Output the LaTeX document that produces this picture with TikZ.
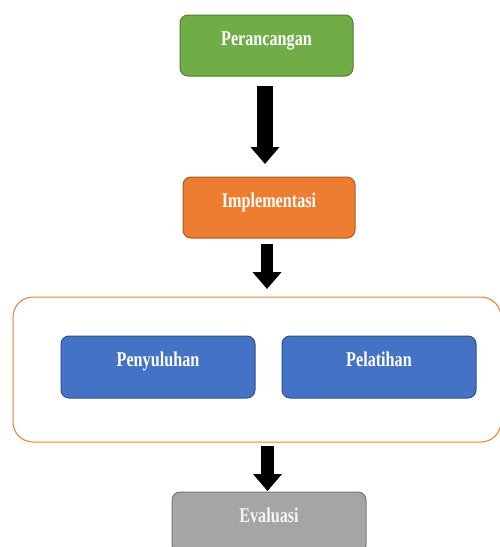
\documentclass[tikz,border=0pt]{standalone}
\usepackage{fontspec}
\setmainfont{Liberation Serif}[FakeStretch=0.77]
\usetikzlibrary{arrows.meta}
\definecolor{cgreen}{HTML}{70AD47}
\definecolor{cgreenb}{HTML}{507E32}
\definecolor{corange}{HTML}{ED7D31}
\definecolor{coranb}{HTML}{AE5A21}
\definecolor{cblue}{HTML}{4472C4}
\definecolor{cblueb}{HTML}{2F528F}
\definecolor{cgray}{HTML}{A5A5A5}
\definecolor{cgrayb}{HTML}{787878}
\tikzset{
  box/.style={draw, line width=1pt, rounded corners=8pt, inner sep=0pt, outer sep=0pt,
    text=white, font=\fontsize{21}{25}\selectfont\bfseries,
    text height=30pt, anchor=north},
  blk/.style={line width=#1, draw=black, -{Triangle[width=28pt,length=17pt]}},
}
\begin{document}
\begin{tikzpicture}[x=1pt,y=-1pt]
\useasboundingbox (0,0) rectangle (499,547);
\node[box, fill=cgreen, draw=cgreenb, minimum width=173pt, text depth=31pt] (P) at (266.5,15) {Perancangan};
\node[box, fill=corange, draw=coranb, minimum width=172pt, text depth=31pt] (I) at (269,177) {Implementasi};
\node[draw=corange, line width=1pt, rounded corners=20pt, fill=white, minimum width=488pt, minimum height=145pt, inner sep=0pt, outer sep=0pt] (G) at (257,369.5) {};
\node[box, fill=cblue, draw=cblueb, minimum width=194pt, text depth=32pt] (S) at (158,336) {Penyuluhan};
\node[box, fill=cblue, draw=cblueb, minimum width=194pt, text depth=32pt] (L) at (379,336) {Pelatihan};
\node[box, fill=cgray, draw=cgrayb, minimum width=194pt, text depth=31pt, text=white!92!gray] (E) at (269,492) {Evaluasi};
\coordinate (a1) at (265,0);
\coordinate (a2) at (267,0);
\coordinate (a3) at (267.5,0);
\draw[blk=16pt, shorten <=10pt, shorten >=13pt] (P.south -| a1) -- (I.north -| a1);
\draw[blk=12pt, shorten <=6pt, shorten >=8pt] (I.south -| a2) -- (G.north -| a2);
\draw[blk=13pt, shorten <=4pt, shorten >=1pt] (G.south -| a3) -- (E.north -| a3);
\end{tikzpicture}
\end{document}
